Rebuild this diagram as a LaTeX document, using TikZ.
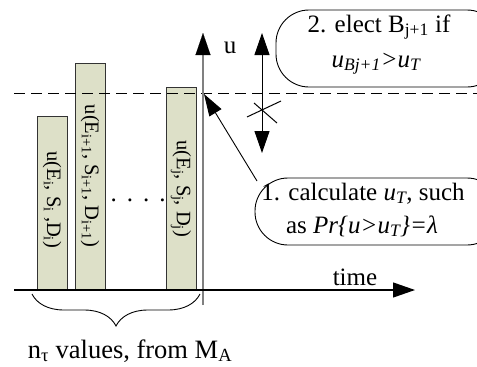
\documentclass[tikz,border=0pt]{standalone}
\usepackage{fontspec}
\setmainfont{Liberation Serif}
\usetikzlibrary{arrows.meta,decorations.pathreplacing}
\definecolor{barfill}{RGB}{221,224,200}
\definecolor{axisgray}{RGB}{128,128,128}
\newcommand{\mysub}[1]{\textsubscript{#1}}
\tikzset{
  bigtext/.style={font=\fontsize{25}{30}\selectfont, inner sep=0pt, anchor=base},
  bartext/.style={font=\fontsize{20.5}{24}\selectfont, inner sep=0pt, rotate=-90},
  bar/.style={draw=black!80, fill=barfill, line width=0.8pt},
  bubble/.style={draw=black, line width=0.9pt, rounded corners=33pt},
  bigtip/.style={-{Triangle[length=22pt,width=15pt]}},
  dbltip/.style={{Triangle[length=22pt,width=15pt]}-{Triangle[length=22pt,width=15pt]}},
}
\begin{document}
\begin{tikzpicture}[x=1pt,y=-1pt]
\useasboundingbox (0,0) rectangle (477,367);
% bars
\draw[bar] (37,290) rectangle (67,116);
\draw[bar] (75,290) rectangle (105,63);
\draw[bar] (166,290) rectangle (196,87);
\node[bartext] (t1) at (52,200) {u(E\mysub{i}, S\mysub{i} ,D\mysub{i})};
\node[bartext] (t2) at (90,176) {u(E\mysub{i+1}, S\mysub{i+1}, D\mysub{i+1})};
\node[bartext] (t3) at (181,189) {u(E\mysub{j}, S\mysub{j}, D\mysub{j})};
\node[bigtext] (dots) at (138,201) {.\hspace{10pt}.\hspace{10pt}.\hspace{10pt}.};
% dashed threshold line
\coordinate (dl) at (14,93);
\coordinate (dr) at (477,93);
\draw[dashed, dash pattern=on 11pt off 6pt, line width=0.9pt] (dl) -- (dr);
% u axis
\coordinate (ubot) at (203,305);
\coordinate (utop) at (203,33);
\draw[axisgray, line width=1.5pt] (ubot) -- (203,50);
\draw[bigtip, line width=0.1pt, draw=black] (203,52) -- (utop);
\node[bigtext] (ulab) at (230,53) {u};
% time axis
\coordinate (tl) at (14,290);
\coordinate (tr) at (415,290);
\draw[bigtip, line width=1.2pt] (tl) -- (tr);
\node[bigtext] (time) at (355,285) {time};
% double arrow with cross
\coordinate (da) at (262,33);
\coordinate (db) at (262,153);
\draw[dbltip, line width=1pt] (da) -- (db);
\coordinate (c1) at (247,117);
\coordinate (c2) at (281,101);
\coordinate (c3) at (254,103);
\coordinate (c4) at (277,123);
\draw[line width=1pt] (c1) -- (c2);
\draw[line width=1pt] (c3) -- (c4);
% bubble 2
\draw[bubble] (276,10) rectangle (500,87);
\node[bigtext] (e1) at (379,32) {2. elect B\mysub{j+1} if};
\node[bigtext] (e2) at (376,67) {\textit{u\mysub{Bj+1}>u\mysub{T}}};
% bubble 1
\draw[bubble] (255,178) rectangle (500,245);
\node[bigtext] (k1) at (363,200) {1. calculate \textit{u\mysub{T}}, such};
\node[bigtext] (k2) at (362,233) {as \textit{Pr\{u>u\mysub{T}\}=λ}};
% pointer
\coordinate (p) at (257,181);
\coordinate (x) at (204,94);
\draw[-{Triangle[length=22pt,width=14pt]}, line width=0.9pt] (p) -- (x);
% brace
\coordinate (bl) at (32,294);
\coordinate (br) at (200,294);
\draw[decorate, decoration={brace, amplitude=32pt}, line width=0.9pt] (br) -- (bl);
\node[bigtext, font=\fontsize{26.5}{30}\selectfont] (nv) at (130,358) {n\mysub{τ} values, from M\mysub{A}};
\end{tikzpicture}
\end{document}
